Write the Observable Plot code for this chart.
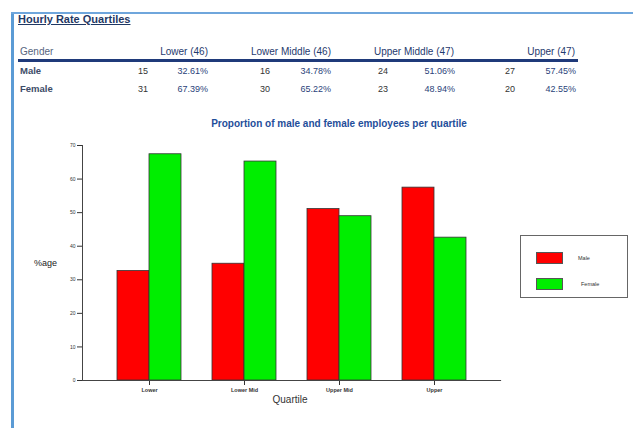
<!DOCTYPE html>
<html><head><meta charset="utf-8">
<script src="https://cdn.jsdelivr.net/npm/d3@7"></script>
<script src="https://cdn.jsdelivr.net/npm/@observablehq/plot@0.6"></script>
<style>
body{margin:0;background:#fff;font-family:"Liberation Sans",Arial,sans-serif;width:633px;height:428px;overflow:hidden;position:relative}
.abs{position:absolute;white-space:nowrap;line-height:12px}
#chart{position:absolute;left:0;top:130px}
</style></head><body>
<div class="abs" style="left:11px;top:12px;width:3px;height:416px;background:#5b9bd5"></div>
<div class="abs" style="left:11px;top:12px;width:622px;height:2px;background:#6fa6dc"></div>
<div id="root"></div>
<div id="chart"></div>
<script>
const quartiles = ["Lower", "Lower Mid", "Upper Mid", "Upper"];
const headers = ["Lower (46)", "Lower Middle (46)", "Upper Middle (47)", "Upper (47)"];
const genders = ["Male", "Female"];
const maleCounts = [15, 16, 24, 27];
const femaleCounts = [31, 30, 23, 20];
const malePct = [32.61, 34.78, 51.06, 57.45];
const femalePct = [67.39, 65.22, 48.94, 42.55];
const colors = ["#ff0000", "#00ee00"];
const yTicks = [0, 10, 20, 30, 40, 50, 60, 70];

const root = document.getElementById("root");
function txt(s, style) {
  const d = document.createElement("div");
  d.className = "abs";
  d.textContent = s;
  d.setAttribute("style", style);
  root.appendChild(d);
  return d;
}
function rtxt(s, right, top, style) {
  return txt(s, `right:${633 - right}px;top:${top}px;text-align:right;` + style);
}
txt("Hourly Rate Quartiles", "left:18px;top:13px;font-size:11px;font-weight:bold;text-decoration:underline;color:#1f3864");
txt("Gender", "left:20px;top:46px;font-size:10px;color:#56657e");
const headRight = [208, 331, 454, 575];
const cntRight = [148, 270, 388, 515];
const pctRight = [208, 331, 455, 576];
headers.forEach((h, i) => rtxt(h, headRight[i], 46, "font-size:10px;color:#1f3a6e"));
txt("", "left:18px;top:59px;width:560px;height:3px;background:#1f3a7a");
const rowTop = [65, 83];
const counts = [maleCounts, femaleCounts];
const pcts = [malePct, femalePct];
genders.forEach((g, r) => {
  txt(g, `left:20px;top:${rowTop[r]}px;font-size:9.5px;font-weight:bold;color:#3d4c68`);
  quartiles.forEach((q, i) => {
    rtxt(String(counts[r][i]), cntRight[i], rowTop[r], "font-size:9px;color:#333");
    rtxt(pcts[r][i].toFixed(2) + "%", pctRight[i], rowTop[r], "font-size:9px;color:#2a3f7a");
  });
});
txt("Proportion of male and female employees per quartile", "left:0;width:678px;text-align:center;top:118px;font-size:10px;font-weight:bold;color:#1f4e9a");
txt("%age", "left:34px;top:257px;font-size:9px;color:#222");
txt("Quartile", "left:0;width:580px;text-align:center;top:394px;font-size:10px;color:#333");

// legend
txt("", "left:520px;top:235px;width:106px;height:61px;border:1px solid #666;background:#fff");
const legTop = [252, 278];
genders.forEach((g, r) => {
  txt("", `left:536px;top:${legTop[r]}px;width:25px;height:10px;background:${colors[r]};border:1px solid #555`);
  txt(g, `left:${r ? 581 : 578}px;top:${legTop[r]}px;font-size:5.5px;color:#333`);
});

const data = [];
quartiles.forEach((q, i) => {
  data.push({quartile: q, gender: "Male", pct: malePct[i]});
  data.push({quartile: q, gender: "Female", pct: femalePct[i]});
});

const plot = Plot.plot({
  width: 633,
  height: 280,
  marginLeft: 82,
  marginRight: 133,
  marginTop: 15,
  marginBottom: 30,
  style: {fontFamily: "Liberation Sans, Arial, sans-serif", background: "transparent"},
  x: {domain: quartiles, paddingInner: 0.33, paddingOuter: 0.35},
  y: {domain: [0, 70]},
  marks: [
    Plot.barY(data.filter(d => d.gender === "Male"), {x: "quartile", y: "pct", fill: colors[0], stroke: "#333", strokeWidth: 0.8, insetRight: 32}),
    Plot.barY(data.filter(d => d.gender === "Female"), {x: "quartile", y: "pct", fill: colors[1], stroke: "#333", strokeWidth: 0.8, insetLeft: 32}),
    Plot.axisY({ticks: yTicks, tickSize: 5, tickPadding: 2, fontSize: 5, label: null, color: "#333"}),
    Plot.axisX({tickSize: 5, tickPadding: 3, fontSize: 5.5, fontWeight: "bold", label: null, color: "#333"}),
    Plot.frame({anchor: "left", stroke: "#444"}),
    Plot.frame({anchor: "bottom", stroke: "#444", strokeWidth: 1.2})
  ]
});
document.getElementById("chart").appendChild(plot);
</script>
</body></html>
